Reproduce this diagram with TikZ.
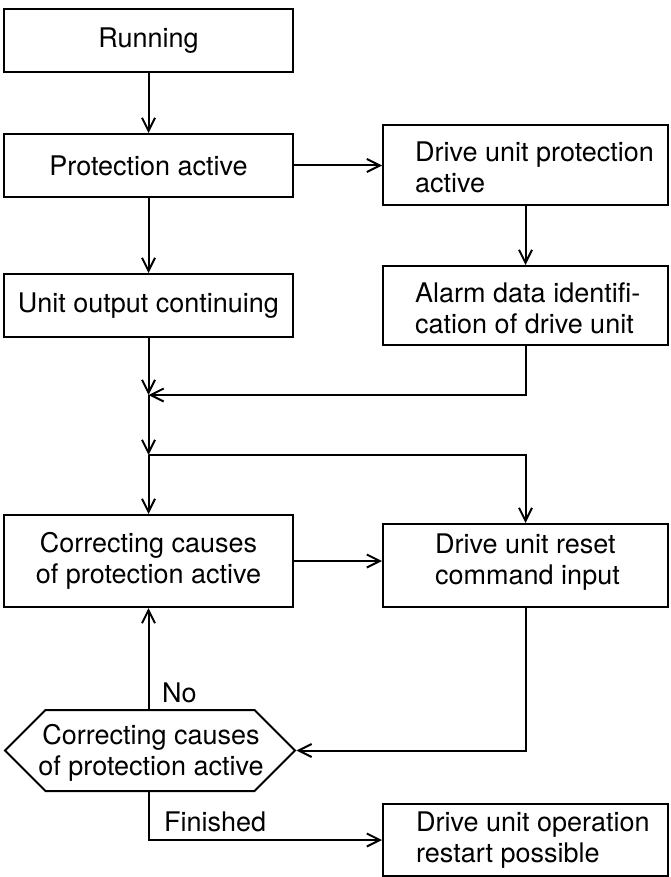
\documentclass[tikz,border=0pt]{standalone}
\usepackage{fontspec}
\setmainfont{TeX Gyre Heros}
\usetikzlibrary{arrows.meta,shapes.symbols,calc}

\begin{document}
\begin{tikzpicture}[x=1pt,y=-1pt,
  box/.style={draw, line width=2pt, rectangle, inner sep=0pt, minimum width=289pt},
  rbox/.style={draw, line width=2pt, rectangle, inner sep=0pt, minimum width=285pt},
  txt/.style={inner sep=0pt, font=\fontsize{27}{31}\selectfont, align=center},
  ltxt/.style={inner sep=0pt, font=\fontsize{27}{31}\selectfont, align=left, anchor=west},
  flow/.style={line width=2pt, -{Straight Barb[length=13pt,width=13pt]}},
]
\useasboundingbox (0,0) rectangle (670,877);

% left column
\node[box, txt, minimum height=63pt] (run) at (148.5,40.5) {Running};
\node[box, txt, minimum height=63pt] (prot) at (148.5,165.5) {Protection active};
\node[box, txt, minimum height=63pt] (unitout) at (148.5,305.5) {Unit output continuing};
\node[box, txt, minimum height=92pt] (corr) at (148.5,561) {Correcting causes\\of protection active};

% decision hexagon
\node[draw, line width=2pt, signal, signal to=west and east, signal pointer angle=90,
      minimum width=290pt, minimum height=81pt, inner sep=0pt] (hex) at (150,750.5) {};
\node[txt] (hextext) at (151,753) {Correcting causes\\of protection active};

% right column
\node[rbox, minimum height=80pt] (dprot) at (525.5,165) {};
\node[ltxt] (dprottext) at (415,167.5) {Drive unit protection\\active};
\node[rbox, minimum height=79pt] (alarm) at (525.5,305.5) {};
\node[ltxt] (alarmtext) at (415,308.5) {Alarm data identifi-\\cation of drive unit};
\node[rbox, minimum height=83pt] (reset) at (525.5,565.5) {};
\node[ltxt] (resettext) at (435,562) {Drive unit reset\\command input};
\node[rbox, minimum height=72pt] (oper) at (525.5,840) {};
\node[ltxt] (opertext) at (416,840) {Drive unit operation\\restart possible};

% branch points
\coordinate (j1) at (148.5,395);
\coordinate (j2) at (148.5,455);

% connectors
\draw[flow] (run) -- (prot);
\draw[flow] (prot.east) -- (prot.east -| dprot.west);
\draw[flow] (prot) -- (unitout);
\draw[flow] (dprot) -- (alarm);
\draw[flow] (unitout) -- (j1);
\draw[flow] (alarm.south) |- (j1);
\draw[flow] (j1) -- (j2);
\draw[flow] (j2) -- (corr);
\draw[flow] (j2) -| (reset.north);
\draw[flow] (corr.east) -- (corr.east -| reset.west);
\draw[flow] (reset.south) |- (hex.east);
\draw[flow] (hex.north -| corr.south) -- (corr.south);
\draw[flow] (hex.south -| corr.south) |- (oper.west);

% branch labels
\node[ltxt] (nolbl) at (162,693) {No};
\node[ltxt] (finlbl) at (164,822) {Finished};
\end{tikzpicture}
\end{document}
